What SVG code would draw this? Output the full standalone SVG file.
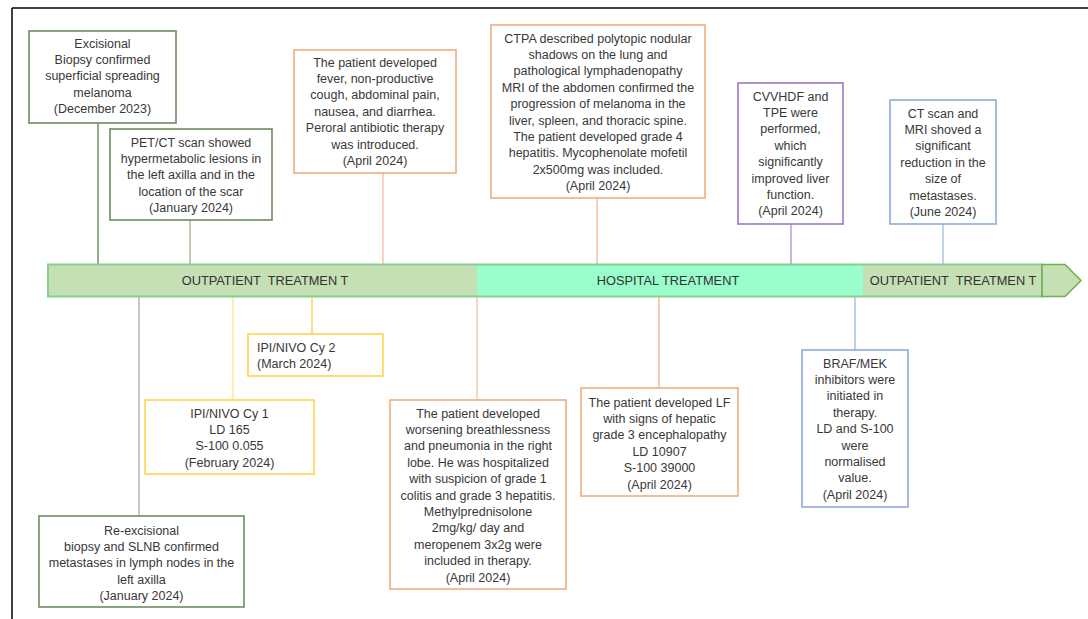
<svg xmlns="http://www.w3.org/2000/svg" width="1088" height="619" viewBox="0 0 1088 619">
<style>
text{font-family:"Liberation Sans",Arial,sans-serif;font-size:12.5px;fill:#383838}
.c{text-anchor:middle}
.box{fill:#fff;stroke-width:1.6}
.g{stroke:#6f8c5c}
.o{stroke:#f2ad80}
.y{stroke:#ffd54f}
.p{stroke:#9c78bf}
.b{stroke:#8eaadb}
.ln{fill:none;stroke-width:1.4}
.bar{font-size:12.8px;fill:#333}
</style>
<rect width="1088" height="619" fill="#fff"/>
<g id="frame" fill="none" stroke="#000" stroke-width="1.5">
<line x1="12" y1="8" x2="12" y2="619"/>
<line x1="12" y1="8" x2="1088" y2="8"/>
</g>
<g id="connectors" class="ln">
<line x1="98" y1="123" x2="98" y2="265" stroke="#6b8a5a"/>
<line x1="190" y1="220" x2="190" y2="265" stroke="#a8b59a"/>
<line x1="383" y1="173" x2="383" y2="265" stroke="#f6c1a2"/>
<line x1="597" y1="198" x2="597" y2="265" stroke="#f4bb98"/>
<line x1="791" y1="224" x2="791" y2="265" stroke="#b597d6"/>
<line x1="943" y1="224" x2="943" y2="265" stroke="#a8bfe8"/>
<line x1="139" y1="297" x2="139" y2="516" stroke="#b0b0a6"/>
<line x1="233" y1="297" x2="233" y2="400" stroke="#ffe49a"/>
<line x1="312" y1="297" x2="312" y2="334" stroke="#ffd24d"/>
<line x1="477" y1="297" x2="477" y2="400" stroke="#f8c6a8"/>
<line x1="659" y1="297" x2="659" y2="388" stroke="#f2b892"/>
<line x1="855" y1="297" x2="855" y2="350" stroke="#a3bbe6"/>
</g>
<g id="timeline">
<rect x="48" y="264.5" width="429" height="32" fill="#c5e0b4"/>
<rect x="477" y="264.5" width="386" height="32" fill="#99fdcc"/>
<rect x="863" y="264.5" width="179" height="32" fill="#c5e0b4"/>
<rect x="48" y="264.5" width="994" height="32" fill="none" stroke="#86cf8f" stroke-width="2"/>
<polygon points="1042,264.5 1065,264.5 1081,280.5 1065,296.5 1042,296.5" fill="#c5e0b4" stroke="#72ad4f" stroke-width="1.5"/>
<text class="bar c" x="265" y="285">OUTPATIENT&#160; TREATMEN T</text>
<text class="bar c" x="668" y="285">HOSPITAL TREATMENT</text>
<text class="bar c" x="953" y="285">OUTPATIENT&#160; TREATMEN T</text>
</g>
<g id="n1">
<rect class="box g" x="29" y="31" width="147" height="92"/>
<text class="c" x="102.5" y="47.5">Excisional</text>
<text class="c" x="102.5" y="63.9">Biopsy confirmed</text>
<text class="c" x="102.5" y="80.3">superficial spreading</text>
<text class="c" x="102.5" y="96.7">melanoma</text>
<text class="c" x="102.5" y="113.1">(December 2023)</text>
</g>
<g id="n2">
<rect class="box g" x="110" y="129" width="162" height="91"/>
<text class="c" x="191" y="146.5">PET/CT scan showed</text>
<text class="c" x="191" y="162.9">hypermetabolic lesions in</text>
<text class="c" x="191" y="179.3">the left axilla and in the</text>
<text class="c" x="191" y="195.7">location of the scar</text>
<text class="c" x="191" y="212.1">(January 2024)</text>
</g>
<g id="n3">
<rect class="box o" x="294" y="50" width="162" height="123"/>
<text class="c" x="375" y="66.5">The patient developed</text>
<text class="c" x="375" y="82.9">fever, non-productive</text>
<text class="c" x="375" y="99.3">cough, abdominal pain,</text>
<text class="c" x="375" y="115.7">nausea, and diarrhea.</text>
<text class="c" x="375" y="132.1">Peroral antibiotic therapy</text>
<text class="c" x="375" y="148.5">was introduced.</text>
<text class="c" x="375" y="164.9">(April 2024)</text>
</g>
<g id="n4">
<rect class="box o" x="491" y="25" width="214" height="173"/>
<text class="c" x="598" y="42.5">CTPA described polytopic nodular</text>
<text class="c" x="598" y="58.9">shadows on the lung and</text>
<text class="c" x="598" y="75.3">pathological lymphadenopathy</text>
<text class="c" x="598" y="91.7">MRI of the abdomen confirmed the</text>
<text class="c" x="598" y="108.1">progression of melanoma in the</text>
<text class="c" x="598" y="124.5">liver, spleen, and thoracic spine.</text>
<text class="c" x="598" y="140.9">The patient developed grade 4</text>
<text class="c" x="598" y="157.3">hepatitis. Mycophenolate mofetil</text>
<text class="c" x="598" y="173.7">2x500mg was included.</text>
<text class="c" x="598" y="190.1">(April 2024)</text>
</g>
<g id="n5">
<rect class="box p" x="738" y="83" width="105" height="141"/>
<text class="c" x="790.5" y="100.5">CVVHDF and</text>
<text class="c" x="790.5" y="116.9">TPE were</text>
<text class="c" x="790.5" y="133.3">performed,</text>
<text class="c" x="790.5" y="149.7">which</text>
<text class="c" x="790.5" y="166.1">significantly</text>
<text class="c" x="790.5" y="182.5">improved liver</text>
<text class="c" x="790.5" y="198.9">function.</text>
<text class="c" x="790.5" y="215.3">(April 2024)</text>
</g>
<g id="n6">
<rect class="box b" x="890" y="100" width="106" height="124"/>
<text class="c" x="943" y="117.5">CT scan and</text>
<text class="c" x="943" y="133.9">MRI shoved a</text>
<text class="c" x="943" y="150.3">significant</text>
<text class="c" x="943" y="166.7">reduction in the</text>
<text class="c" x="943" y="183.1">size of</text>
<text class="c" x="943" y="199.5">metastases.</text>
<text class="c" x="943" y="215.9">(June 2024)</text>
</g>
<g id="n7">
<rect class="box g" x="39" y="516" width="205" height="91"/>
<text class="c" x="141.5" y="534.5">Re-excisional</text>
<text class="c" x="141.5" y="550.9">biopsy and SLNB confirmed</text>
<text class="c" x="141.5" y="567.3">metastases in lymph nodes in the</text>
<text class="c" x="141.5" y="583.7">left axilla</text>
<text class="c" x="141.5" y="600.1">(January 2024)</text>
</g>
<g id="n8">
<rect class="box y" x="145" y="400" width="169" height="74"/>
<text class="c" x="229.5" y="417.5">IPI/NIVO Cy 1</text>
<text class="c" x="229.5" y="433.9">LD 165</text>
<text class="c" x="229.5" y="450.3">S-100 0.055</text>
<text class="c" x="229.5" y="466.7">(February 2024)</text>
</g>
<g id="n9">
<rect class="box y" x="248" y="334" width="135" height="42"/>
<text x="257" y="351.5">IPI/NIVO Cy 2</text>
<text x="257" y="367.5">(March 2024)</text>
</g>
<g id="n10">
<rect class="box o" x="390" y="400" width="176" height="189"/>
<text class="c" x="478" y="417.5">The patient developed</text>
<text class="c" x="478" y="433.9">worsening breathlessness</text>
<text class="c" x="478" y="450.3">and pneumonia in the right</text>
<text class="c" x="478" y="466.7">lobe. He was hospitalized</text>
<text class="c" x="478" y="483.1">with suspicion of grade 1</text>
<text class="c" x="478" y="499.5">colitis and grade 3 hepatitis.</text>
<text class="c" x="478" y="515.9">Methylprednisolone</text>
<text class="c" x="478" y="532.3">2mg/kg/ day and</text>
<text class="c" x="478" y="548.7">meropenem 3x2g were</text>
<text class="c" x="478" y="565.1">included in therapy.</text>
<text class="c" x="478" y="581.5">(April 2024)</text>
</g>
<g id="n11">
<rect class="box o" x="581" y="388" width="157" height="108"/>
<text class="c" x="659.5" y="406.5">The patient developed LF</text>
<text class="c" x="659.5" y="422.9">with signs of hepatic</text>
<text class="c" x="659.5" y="439.3">grade 3 encephalopathy</text>
<text class="c" x="659.5" y="455.7">LD 10907</text>
<text class="c" x="659.5" y="472.1">S-100 39000</text>
<text class="c" x="659.5" y="488.5">(April 2024)</text>
</g>
<g id="n12">
<rect class="box b" x="802" y="350" width="106" height="157"/>
<text class="c" x="855" y="367.5">BRAF/MEK</text>
<text class="c" x="855" y="383.9">inhibitors were</text>
<text class="c" x="855" y="400.3">initiated in</text>
<text class="c" x="855" y="416.7">therapy.</text>
<text class="c" x="855" y="433.1">LD and S-100</text>
<text class="c" x="855" y="449.5">were</text>
<text class="c" x="855" y="465.9">normalised</text>
<text class="c" x="855" y="482.3">value.</text>
<text class="c" x="855" y="498.7">(April 2024)</text>
</g>
</svg>
